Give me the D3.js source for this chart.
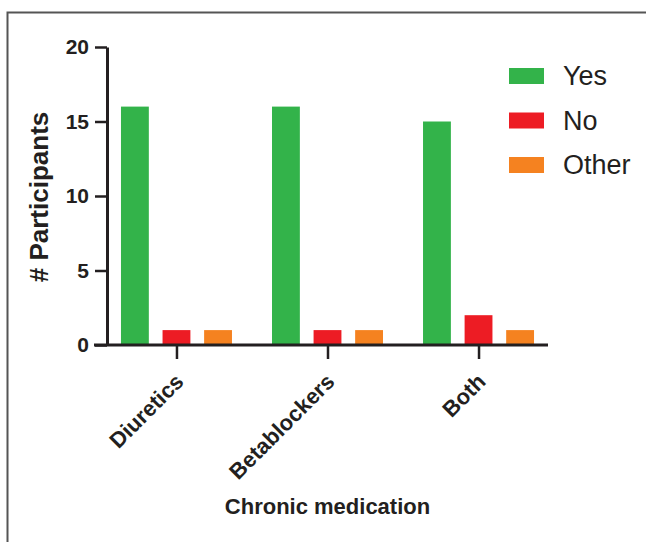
<!DOCTYPE html>
<meta charset="utf-8">
<style>
  body { margin: 0; background: #fff; }
  text { font-family: Arial, "Liberation Sans", sans-serif; fill: #231f20; }
  .tick text { font-weight: bold; }
</style>
<svg width="646" height="542"></svg>
<script src="https://d3js.org/d3.v7.min.js"></script>
<script>
var categories = ["Diuretics", "Betablockers", "Both"];
var series = ["Yes", "No", "Other"];
var yesValues = [16, 16, 15];
var noValues = [1, 1, 2];
var otherValues = [1, 1, 1];
var yTicks = [0, 5, 10, 15, 20];
var colors = ["#33b34a", "#ed1c24", "#f58220"];

var values = [yesValues, noValues, otherValues];

var svg = d3.select("svg");

// frame, clipped by the page on the right and bottom
svg.append("rect")
    .attr("x", 7.5)
    .attr("y", 12.5)
    .attr("width", 700)
    .attr("height", 600)
    .attr("fill", "none")
    .attr("stroke", "#555")
    .attr("stroke-width", 2);

var plotLeft = 107, plotRight = 548, plotTop = 47, plotBottom = 345;

var y = d3.scaleLinear().domain([0, 20]).range([plotBottom, plotTop]);

var x = d3.scalePoint()
    .domain(categories)
    .range([plotLeft, plotRight])
    .padding(0.46);

var xInner = d3.scaleBand()
    .domain(series)
    .range([-55.5, 55.5])
    .paddingInner(0.33);

/* bars */
var groups = svg.selectAll(".group")
    .data(categories)
    .enter()
    .append("g")
    .attr("class", "group")
    .attr("transform", function(d) { return "translate(" + x(d) + ",0)"; });

groups.selectAll("rect")
    .data(function(d, i) {
      return series.map(function(s, j) { return {s: s, v: values[j][i], c: colors[j]}; });
    })
    .enter()
    .append("rect")
    .attr("x", function(d) { return xInner(d.s); })
    .attr("width", xInner.bandwidth())
    .attr("y", function(d) { return y(d.v); })
    .attr("height", function(d) { return plotBottom - y(d.v); })
    .attr("fill", function(d) { return d.c; });

/* y axis */
var yAxis = svg.append("g")
    .attr("transform", "translate(" + plotLeft + ",0)")
    .call(d3.axisLeft(y).tickValues(yTicks).tickSize(12).tickSizeOuter(0).tickPadding(6));

yAxis.select(".domain").attr("stroke", "#231f20").attr("stroke-width", 3);
yAxis.selectAll(".tick line").attr("stroke", "#231f20").attr("stroke-width", 2.5);
yAxis.selectAll(".tick text")
    .style("font-size", "21px")
    .attr("fill", "#231f20");

/* x axis */
var xAxis = svg.append("g")
    .attr("transform", "translate(0," + plotBottom + ")")
    .call(d3.axisBottom(x).tickSize(14).tickSizeOuter(0));

xAxis.select(".domain")
    .attr("d", "M" + (plotLeft - 13) + ",0H" + plotRight)
    .attr("stroke", "#231f20")
    .attr("stroke-width", 3);
xAxis.selectAll(".tick line").attr("stroke", "#231f20").attr("stroke-width", 2.5);
xAxis.selectAll(".tick text")
    .style("font-size", "22px")
    .attr("fill", "#231f20")
    .attr("text-anchor", "end")
    .attr("dy", null)
    .attr("y", 0)
    .attr("transform", "translate(8,38) rotate(-45)");

/* axis titles */
svg.append("text")
    .attr("transform", "translate(48,197) rotate(-90)")
    .attr("text-anchor", "middle")
    .style("font-size", "26px")
    .style("font-weight", "bold")
    .text("# Participants");

svg.append("text")
    .attr("x", x("Betablockers"))
    .attr("y", 514)
    .attr("text-anchor", "middle")
    .style("font-size", "22px")
    .style("font-weight", "bold")
    .text("Chronic medication");

/* legend */
var legend = svg.selectAll(".legend")
    .data(series)
    .enter()
    .append("g")
    .attr("class", "legend")
    .attr("transform", function(d, i) { return "translate(509," + (76 + i * 44.5) + ")"; });

legend.append("rect")
    .attr("y", -8)
    .attr("width", 35)
    .attr("height", 16)
    .attr("fill", function(d, i) { return colors[i]; });

legend.append("text")
    .attr("x", 54)
    .attr("dy", "0.35em")
    .style("font-size", "27px")
    .text(function(d) { return d; });
</script>
